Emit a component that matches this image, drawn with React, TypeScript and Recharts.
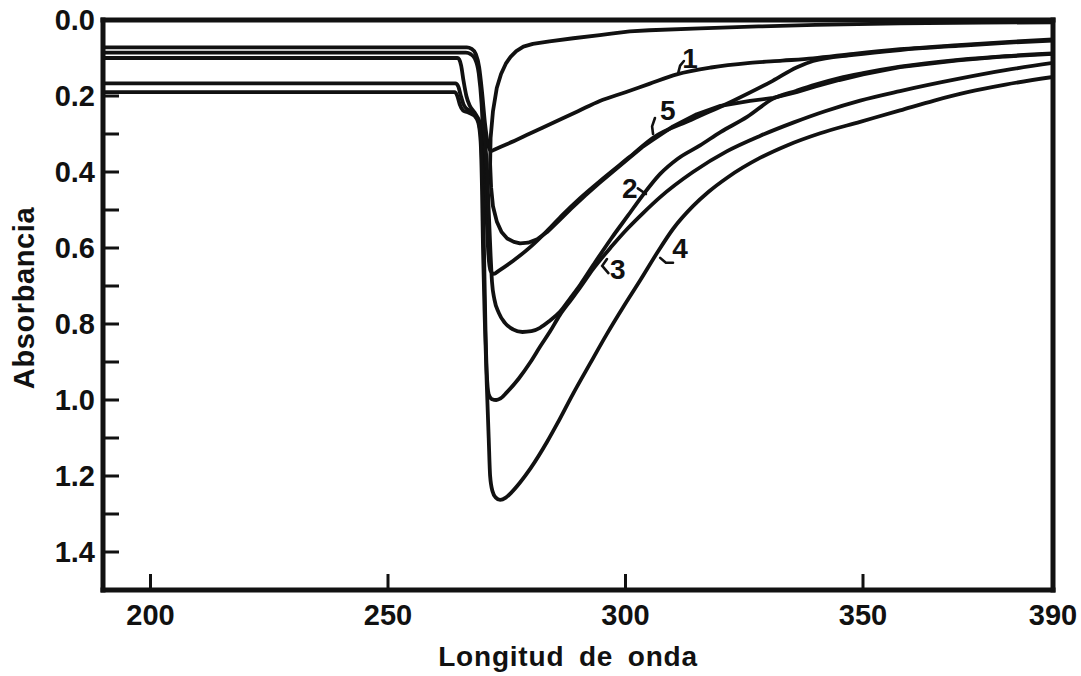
import React from 'react';
import { LineChart, Line, XAxis, YAxis, ReferenceDot } from 'recharts';

type Pt = [number, number];

// Axis ticks
const xTicks = [200, 250, 300, 350, 390];
const xTopTicks = [200, 250, 300, 350];
const yTicks = [0, 0.1, 0.2, 0.3, 0.4, 0.5, 0.6, 0.7, 0.8, 0.9, 1.0, 1.1, 1.2, 1.3, 1.4];
const yRightTicks = [0.1, 0.2, 0.3, 0.4, 0.5, 0.6, 0.7, 0.8, 0.9, 1.0, 1.1, 1.2, 1.3, 1.4];

// Spectra: [wavelength, absorbance]
const curve1: Pt[] = [
  [190, 0.072], [266.6, 0.072], [267.6, 0.076], [268.5, 0.09], [269.2, 0.125], [269.8, 0.19],
  [270.4, 0.27], [271.1, 0.33], [271.7, 0.345], [272.6, 0.34], [275, 0.327], [280, 0.298],
  [285, 0.269], [290, 0.24], [294.6, 0.213], [300, 0.19], [305, 0.168], [310.8, 0.143],
  [318, 0.125], [326.2, 0.113], [333, 0.107], [339.5, 0.101], [348, 0.089], [357.8, 0.077],
  [370, 0.066], [380, 0.058], [390, 0.051],
];

const curve5: Pt[] = [
  [190, 0.086], [266.4, 0.086], [267.4, 0.09], [268.3, 0.102], [269.1, 0.14], [269.7, 0.22],
  [270.2, 0.35], [270.7, 0.5], [271.1, 0.61], [271.6, 0.66], [272.3, 0.668], [273.3, 0.66],
  [276.3, 0.634], [280, 0.597], [283.5, 0.555], [286.8, 0.512], [290.5, 0.468], [294.6, 0.424],
  [300.9, 0.36], [305.8, 0.31], [314, 0.262], [322.6, 0.213], [331, 0.16], [336, 0.125],
  [339.5, 0.108], [348, 0.092], [357.8, 0.079], [370, 0.068], [380, 0.06], [390, 0.054],
];

// unlabelled trace (drawn as one continuous pen stroke)
const curveLoop: Pt[] = [
  [390, 0.006], [375, 0.007], [357.8, 0.009], [340, 0.013], [328, 0.017], [315.7, 0.022],
  [305, 0.027], [300.9, 0.03], [297, 0.036], [294.6, 0.04], [289, 0.048], [284, 0.056],
  [280.5, 0.063], [278.5, 0.07], [277, 0.082], [275.8, 0.097], [274.8, 0.115], [273.8, 0.142],
  [272.9, 0.179], [272.1, 0.24], [271.6, 0.31], [271.5, 0.38], [271.7, 0.44], [272.1, 0.49],
  [272.9, 0.53], [273.9, 0.558], [275.1, 0.575], [276.5, 0.584], [277.8, 0.588], [279.5, 0.586],
  [281.4, 0.577], [283.5, 0.558], [286, 0.528], [288.5, 0.497], [291.5, 0.462], [294.6, 0.428],
  [298, 0.392], [300.9, 0.362], [303.5, 0.335], [305.8, 0.315], [310, 0.28], [315, 0.248],
  [320, 0.226], [326.2, 0.213], [331.1, 0.205], [336, 0.19], [340, 0.175], [345, 0.158],
  [350, 0.143], [357.8, 0.124], [370, 0.106], [380, 0.096], [390, 0.089],
];

const curve2: Pt[] = [
  [190, 0.1], [264.6, 0.1], [265.0, 0.104], [265.4, 0.12], [265.9, 0.16], [266.5, 0.2],
  [267.2, 0.225], [268.2, 0.243], [269.2, 0.265], [270.1, 0.3], [270.8, 0.38], [271.2, 0.5],
  [271.6, 0.62], [271.9, 0.69], [272.4, 0.735], [273.3, 0.77], [274.6, 0.797], [276.3, 0.814],
  [278.3, 0.821], [280.2, 0.819], [282, 0.81], [284, 0.792], [286.2, 0.768], [288.5, 0.73],
  [290.5, 0.696], [293.2, 0.645], [297, 0.575], [300.5, 0.515], [303.7, 0.46], [307.3, 0.405],
  [311, 0.365], [315.7, 0.33], [320, 0.295], [325.6, 0.255], [331.1, 0.207], [336, 0.186],
  [340, 0.17], [345, 0.153], [350, 0.14], [357.8, 0.123], [370, 0.105], [380, 0.095], [390, 0.088],
];

const curve3: Pt[] = [
  [190, 0.167], [264.2, 0.167], [264.8, 0.175], [265.3, 0.198], [265.9, 0.222], [266.8, 0.236],
  [267.8, 0.244], [268.8, 0.258], [269.5, 0.3], [269.9, 0.42], [270.2, 0.6], [270.5, 0.8],
  [270.8, 0.93], [271.2, 0.985], [271.9, 0.998], [272.8, 1.0], [273.7, 0.996], [275, 0.98],
  [277.5, 0.944], [280, 0.9], [282, 0.86], [284.1, 0.82], [286.2, 0.776], [288.5, 0.737],
  [290.5, 0.703], [293.2, 0.655], [297, 0.597], [300.5, 0.548], [303.7, 0.508], [307.3, 0.466],
  [314.2, 0.4], [321.4, 0.345], [328.3, 0.305], [335.3, 0.27], [342, 0.24], [349.4, 0.212],
  [357.8, 0.187], [370, 0.155], [380, 0.132], [390, 0.113],
];

const curve4: Pt[] = [
  [190, 0.19], [264.0, 0.19], [264.6, 0.2], [265.1, 0.222], [265.8, 0.238], [267, 0.244],
  [268.2, 0.252], [269, 0.27], [269.5, 0.32], [269.8, 0.45], [270.0, 0.6], [270.4, 0.8],
  [270.8, 0.96], [271.2, 1.1], [271.5, 1.2], [272.0, 1.24], [272.7, 1.257], [273.6, 1.263],
  [274.8, 1.257], [276, 1.243], [277.8, 1.217], [280, 1.18], [283.5, 1.11], [285.6, 1.063],
  [288.9, 0.985], [292.5, 0.905], [296.1, 0.826], [299.5, 0.756], [303.1, 0.685], [306.6, 0.614],
  [310, 0.55], [314.2, 0.49], [317.5, 0.452], [321.4, 0.415], [328.3, 0.363], [334, 0.33],
  [341, 0.298], [349.4, 0.268], [357.8, 0.238], [365, 0.212], [372, 0.19], [380, 0.17], [390, 0.15],
];

// Curve number annotations
const labelTexts = ['1', '5', '2', '3', '4'];
const labelWl = [313.6, 308.9, 300.9, 298.4, 311.5];
const labelAbs = [0.1, 0.237, 0.442, 0.655, 0.6];

// Small leader marks next to the numbers
const mark1: Pt[] = [[311.1, 0.139], [311.5, 0.12], [312.3, 0.108]];
const mark5: Pt[] = [[305.8, 0.3], [305.6, 0.28], [306.2, 0.258]];
const mark2: Pt[] = [[302.6, 0.443], [304.3, 0.458]];
const mark3: Pt[] = [[296.1, 0.629], [295.1, 0.647], [296.4, 0.666]];
const mark4: Pt[] = [[307.3, 0.626], [308.5, 0.639], [310, 0.639]];

const rows = (pts: Pt[]) => pts.map(([x, y]) => ({ x, y }));

const FONT = '"Liberation Sans", Arial, Helvetica, sans-serif';
const INK = '#111';

const curves: { name: string; pts: Pt[]; type: 'monotone' | 'linear' }[] = [
  { name: 'c1', pts: curve1, type: 'monotone' },
  { name: 'c5', pts: curve5, type: 'monotone' },
  { name: 'loop', pts: curveLoop, type: 'linear' },
  { name: 'c2', pts: curve2, type: 'monotone' },
  { name: 'c3', pts: curve3, type: 'monotone' },
  { name: 'c4', pts: curve4, type: 'monotone' },
];
const marks: Pt[][] = [mark1, mark5, mark2, mark3, mark4];

const XTitle = (props: any) => {
  const vb = props.viewBox || { x: 0, y: 0, width: 0, height: 0 };
  return (
    <text
      x={vb.x + vb.width / 2 - 10}
      y={vb.y + 76}
      textAnchor="middle"
      fill={INK}
      fontFamily={FONT}
      fontWeight={700}
      fontSize={28}
      letterSpacing={0.8}
      wordSpacing={6}
    >
      Longitud de onda
    </text>
  );
};

const YTitle = (props: any) => {
  const vb = props.viewBox || { x: 0, y: 0, width: 0, height: 0 };
  const cx = vb.x + vb.width - 69;
  const cy = vb.y + vb.height / 2 - 7;
  return (
    <text
      x={cx}
      y={cy}
      transform={`rotate(-90 ${cx} ${cy})`}
      textAnchor="middle"
      fill={INK}
      fontFamily={FONT}
      fontWeight={700}
      fontSize={29}
      letterSpacing={0.6}
    >
      Absorbancia
    </text>
  );
};

export default function App() {
  const axisLine = { stroke: INK, strokeWidth: 5, strokeLinecap: 'square' as const };
  const tickLine = { stroke: INK, strokeWidth: 3 };
  const tickStyle = { fill: INK, fontSize: 29, fontWeight: 700, fontFamily: FONT };
  return (
    <div style={{ position: 'absolute', left: 0, top: 0, width: 1081, height: 676, background: '#fff' }}>
      <LineChart width={1081} height={676} margin={{ top: 19, right: 27, bottom: 56, left: 102 }}>
        <XAxis
          xAxisId="b"
          type="number"
          dataKey="x"
          domain={[190, 390]}
          allowDataOverflow
          ticks={xTicks}
          interval={0}
          height={30}
          tickSize={-16}
          tickMargin={30}
          axisLine={axisLine}
          tickLine={tickLine}
          tick={tickStyle}
          label={{ content: <XTitle /> } as any}
        />
        <XAxis
          xAxisId="t"
          orientation="top"
          type="number"
          dataKey="x"
          domain={[190, 390]}
          allowDataOverflow
          ticks={xTopTicks}
          interval={0}
          height={1}
          tickSize={-15}
          axisLine={axisLine}
          tickLine={tickLine}
          tick={false}
        />
        <YAxis
          yAxisId="l"
          type="number"
          domain={[0, 1.5]}
          reversed
          allowDataOverflow
          ticks={yTicks}
          interval={0}
          width={1}
          tickSize={-16}
          tickMargin={24}
          axisLine={axisLine}
          tickLine={tickLine}
          tick={tickStyle}
          tickFormatter={(v: number) => (Math.round(v * 10) % 2 === 0 ? v.toFixed(1) : '')}
          label={{ content: <YTitle /> } as any}
        />
        <YAxis
          yAxisId="r"
          orientation="right"
          type="number"
          domain={[0, 1.5]}
          reversed
          allowDataOverflow
          ticks={yRightTicks}
          interval={0}
          width={1}
          tickSize={-16}
          axisLine={axisLine}
          tickLine={tickLine}
          tick={false}
        />
        {curves.map((c) => (
          <Line
            key={c.name}
            xAxisId="b"
            yAxisId="l"
            data={rows(c.pts)}
            dataKey="y"
            type={c.type}
            stroke={INK}
            strokeWidth={3.8}
            strokeLinejoin="round"
            strokeLinecap="round"
            dot={false}
            activeDot={false}
            isAnimationActive={false}
          />
        ))}
        {marks.map((m, i) => (
          <Line
            key={`mark-${i}`}
            xAxisId="b"
            yAxisId="l"
            data={rows(m)}
            dataKey="y"
            type="linear"
            stroke={INK}
            strokeWidth={2.6}
            strokeLinecap="round"
            dot={false}
            activeDot={false}
            isAnimationActive={false}
          />
        ))}
        {labelTexts.map((t, i) => (
          <ReferenceDot
            key={`lbl-${t}`}
            xAxisId="b"
            yAxisId="l"
            x={labelWl[i]}
            y={labelAbs[i]}
            r={0}
            fill="none"
            stroke="none"
            ifOverflow="visible"
            label={{
              value: t,
              position: 'center',
              fill: INK,
              fontSize: 28,
              fontWeight: 700,
              fontFamily: FONT,
            }}
          />
        ))}
      </LineChart>
    </div>
  );
}
